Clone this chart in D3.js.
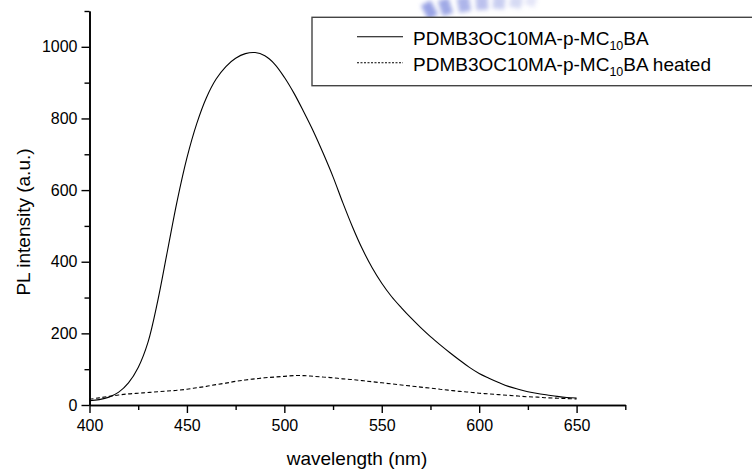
<!DOCTYPE html>
<html>
<head>
<meta charset="utf-8">
<script src="https://cdn.jsdelivr.net/npm/d3@7"></script>
<style>
  body { margin: 0; background: #fff; }
  svg { display: block; }
  text { font-family: Arial, "Liberation Sans", sans-serif; fill: #000; }
</style>
</head>
<body>
<div class="usable"></div>
<script>
// datos (nm, intensidad PL)
const wavelength = [400,405,410,415,420,425,430,435,440,445,450,455,460,465,470,475,480,485,490,495,
  500,505,510,515,520,525,530,535,540,545,550,555,560,565,570,575,580,585,590,595,
  600,605,610,615,620,625,630,635,640,645,650]
const plFresh = [12,15,22,36,62,105,175,290,430,570,690,785,858,910,945,968,981,984,975,952,
  915,870,818,763,702,637,565,497,436,384,340,303,272,243,216,191,168,146,125,105,
  88,75,63,52,44,37,32,28,24,21,19.5]
const plHeated = [16,20,24,28,31,33,35,37,39,41,44,48,52,57,61,66,70,73,76,78,
  80,82,82,80,78,76,73,71,68,65,62,59,56,53,50,47,44,41,38,36,
  33,31,29,27,25,23,22,20,19,18,17]

const xMajor = [400,450,500,550,600,650]
const xMinor = [425,475,525,575,625,675]
const yMajor = [0,200,400,600,800,1000]
const yMinor = [100,300,500,700,900,1100]
const legendNames = ["PDMB3OC10MA-p-MC", "PDMB3OC10MA-p-MC"]
const legendTails = ["BA", "BA heated"]

const width = 752,
  height = 471;

let svg = d3.select(".usable").append("svg")
  .attr("width", width)
  .attr("height", height)

// marca de agua azul (logo borroso arriba)
let defs = svg.append("defs")
defs.append("filter").attr("id", "blur").attr("x", "-50%").attr("y", "-50%").attr("width", "200%").attr("height", "200%")
  .append("feGaussianBlur").attr("stdDeviation", 2.2)
let logo = svg.append("g").attr("filter", "url(#blur)")
const barras = [[424, 2, 11, 16, -28, 0.75], [440, -1, 11, 16, -18, 0.7], [458, -3, 12, 15, -10, 0.6],
  [476, -4, 12, 14, -3, 0.5], [493, -4, 12, 13, 5, 0.4], [510, -4, 12, 12, 12, 0.3], [526, -4, 10, 10, 20, 0.2]]
barras.forEach(b => {
  logo.append("rect").attr("x", b[0]).attr("y", b[1]).attr("width", b[2]).attr("height", b[3])
    .attr("fill", "#7784dc").attr("opacity", b[5])
    .attr("transform", "rotate(" + b[4] + "," + (b[0] + b[2] / 2) + "," + (b[1] + b[3] / 2) + ")")
})

const x = d3.scaleLinear().domain([400, 675]).range([89.5, 625.3])
const y = d3.scaleLinear().domain([0, 1100]).range([405, 11])

// ejes
function estiloEje(g) {
  g.selectAll("path").attr("stroke", "#000").attr("stroke-width", 1.6)
  g.selectAll("line").attr("stroke", "#000").attr("stroke-width", 1.4)
  g.selectAll("text").attr("font-size", 16).attr("font-family", "Arial, 'Liberation Sans', sans-serif")
}

svg.append("g").attr("transform", "translate(0,405)")
  .call(d3.axisBottom(x).tickValues(xMinor).tickSize(5).tickSizeOuter(0).tickFormat(""))
  .call(estiloEje)
svg.append("g").attr("transform", "translate(0,405)")
  .call(d3.axisBottom(x).tickValues(xMajor).tickSize(8).tickSizeOuter(0).tickPadding(7).tickFormat(d3.format("d")))
  .call(estiloEje)

svg.append("g").attr("transform", "translate(89.5,0)")
  .call(d3.axisLeft(y).tickValues(yMinor).tickSize(5).tickSizeOuter(0).tickFormat(""))
  .call(estiloEje)
svg.append("g").attr("transform", "translate(89.5,0)")
  .call(d3.axisLeft(y).tickValues(yMajor).tickSize(8).tickSizeOuter(0).tickPadding(4).tickFormat(d3.format("d")))
  .call(estiloEje)

// titulos de ejes
svg.append("text").text("wavelength (nm)")
  .attr("x", 357).attr("y", 465).attr("text-anchor", "middle").attr("font-size", 19)
svg.append("text").text("PL intensity (a.u.)")
  .attr("transform", "translate(30,222) rotate(-90)").attr("text-anchor", "middle").attr("font-size", 19)

// curvas
const linea = serie => d3.line()
  .x((d, i) => x(wavelength[i]))
  .y(d => y(d))
  .curve(d3.curveCatmullRom.alpha(0.5))(serie)

svg.append("path").attr("d", linea(plFresh))
  .attr("fill", "none").attr("stroke", "#000").attr("stroke-width", 1.1)
svg.append("path").attr("d", linea(plHeated))
  .attr("fill", "none").attr("stroke", "#000").attr("stroke-width", 1.1).attr("stroke-dasharray", "4,2.5")

// leyenda
let leyenda = svg.append("g")
leyenda.append("rect").attr("x", 312).attr("y", 17.3).attr("width", 460).attr("height", 68.4)
  .attr("fill", "#fff").attr("stroke", "#444").attr("stroke-width", 1.4)

const filas = [36.7, 62.7]
filas.forEach((fy, i) => {
  leyenda.append("line").attr("x1", 357).attr("x2", 403).attr("y1", fy).attr("y2", fy)
    .attr("stroke", "#000").attr("stroke-width", 1.1)
    .attr("stroke-dasharray", i == 1 ? "2,1.5" : null)
  let t = leyenda.append("text").attr("x", 413).attr("y", fy + 8.3).attr("font-size", 19)
  t.append("tspan").text(legendNames[i])
  t.append("tspan").text("10").attr("font-size", 12.5).attr("dy", 5)
  t.append("tspan").text(legendTails[i]).attr("dy", -5)
})
</script>
</body>
</html>
